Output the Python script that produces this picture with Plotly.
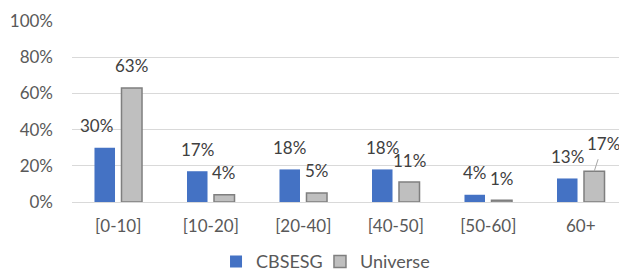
import plotly.graph_objects as go

categories = ["[0-10]", "[10-20]", "[20-40]", "[40-50]", "[50-60]", "60+"]
cbsesg = [0.30, 0.17, 0.18, 0.18, 0.04, 0.13]
universe = [0.63, 0.04, 0.05, 0.11, 0.01, 0.17]
y_ticks = [0, 0.2, 0.4, 0.6, 0.8, 1.0]

FONT = "Lato"
LABEL_COLOR = "#404040"
TICK_COLOR = "#595959"

fig = go.Figure()
fig.add_bar(name="CBSESG", x=categories, y=cbsesg, legend="legend",
            marker=dict(color="#4472C4", line=dict(color="#4472C4", width=0)))
fig.add_bar(name="Universe", x=categories, y=universe, legend="legend2",
            marker=dict(color="#BFBFBF", line=dict(color="#7F7F7F", width=1.5)))

annotations = []
series = [("CBSESG", cbsesg, -13.5), ("Universe", universe, 13.5)]
extra_dx = {("CBSESG", "[0-10]"): -8}
for name, vals, dx in series:
    for cat, v in zip(categories, vals):
        if name == "Universe" and cat == "60+":
            annotations.append(dict(
                x=cat, y=v, xref="x", yref="y", text=f"{round(v*100)}%",
                showarrow=True, arrowhead=0, arrowwidth=1, arrowcolor="#A6A6A6",
                ax=9, ay=-28, standoff=0, borderpad=5, xshift=dx,
                font=dict(family=FONT, size=17, color=LABEL_COLOR)))
        else:
            annotations.append(dict(
                x=cat, y=v, xref="x", yref="y", text=f"{round(v*100)}%",
                showarrow=False, yanchor="middle", xanchor="center",
                xshift=dx + extra_dx.get((name, cat), 0), yshift=22,
                font=dict(family=FONT, size=17, color=LABEL_COLOR)))

legend_common = dict(orientation="h", xref="paper", yref="paper",
                     xanchor="left", y=-0.33, yanchor="middle",
                     font=dict(family=FONT, size=18, color=TICK_COLOR),
                     itemwidth=30, tracegroupgap=0, bgcolor="rgba(0,0,0,0)")

fig.update_layout(
    width=619, height=263,
    margin=dict(l=64, r=0, t=13, b=69, autoexpand=False),
    paper_bgcolor="white", plot_bgcolor="white",
    barmode="group", bargap=0.416, bargroupgap=0.24,
    font=dict(family=FONT, size=17, color=TICK_COLOR),
    showlegend=True,
    legend=dict(x=0.2595, **legend_common),
    legend2=dict(x=0.4468, **legend_common),
    annotations=annotations,
    xaxis=dict(showgrid=False, showline=False, zeroline=False, ticks="",
               ticklabelstandoff=12, automargin=False,
               tickfont=dict(family=FONT, size=17, color=TICK_COLOR)),
    yaxis=dict(range=[0, 1.0], tickvals=y_ticks, tickformat=".0%",
               showgrid=True, gridcolor="#D9D9D9", gridwidth=1,
               zeroline=True, zerolinecolor="#D9D9D9", zerolinewidth=1,
               showline=False, ticks="", ticklabelstandoff=18, automargin=False,
               tickfont=dict(family=FONT, size=17, color=TICK_COLOR)),
)

fig.write_html("out.html")
